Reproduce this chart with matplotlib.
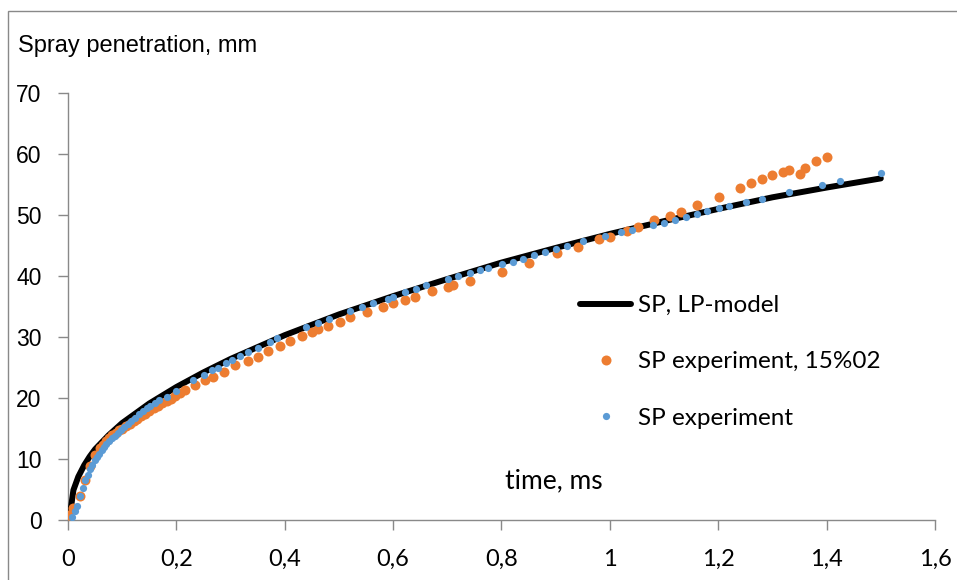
import matplotlib
matplotlib.use('Agg')
import matplotlib.pyplot as plt
from matplotlib.patches import Rectangle

# model curve
model_t = [0, 0.004, 0.01, 0.019, 0.03, 0.04, 0.05, 0.075, 0.1, 0.15, 0.2, 0.25, 0.3,
           0.4, 0.5, 0.6, 0.7, 0.8, 0.9, 1.0, 1.1, 1.2, 1.3, 1.4, 1.5]
model_sp = [0, 1.1, 4.9, 7.1, 9.0, 10.4, 11.6, 13.9, 15.9, 19.1, 21.8, 24.2, 26.4,
            30.3, 33.7, 36.7, 39.5, 42.2, 44.6, 46.9, 49.0, 51.0, 52.9, 54.5, 56.0]

# SP experiment, 15%O2
o2_t = [0.0, 0.01, 0.022, 0.031, 0.041, 0.05, 0.059, 0.064, 0.07, 0.076, 0.082, 0.088,
        0.094, 0.1, 0.107, 0.114, 0.121, 0.128, 0.135, 0.142, 0.15, 0.158, 0.166,
        0.174, 0.182, 0.19, 0.198, 0.207, 0.216, 0.234, 0.253, 0.268, 0.287, 0.308,
        0.333, 0.351, 0.370, 0.391, 0.410, 0.431, 0.450, 0.462, 0.480, 0.502, 0.520,
        0.551, 0.582, 0.600, 0.622, 0.640, 0.671, 0.702, 0.711, 0.741, 0.801, 0.851,
        0.902, 0.942, 0.980, 1.001, 1.031, 1.051, 1.081, 1.111, 1.131, 1.160, 1.201,
        1.240, 1.260, 1.280, 1.300, 1.320, 1.331, 1.351, 1.361, 1.380, 1.400]
o2_sp = [0.8, 2.0, 3.9, 6.6, 8.9, 10.7, 11.8, 12.3, 12.9, 13.4, 13.9, 14.3,
         14.7, 15.0, 15.4, 15.8, 16.2, 16.6, 17.0, 17.4, 17.9, 18.3, 18.7,
         19.1, 19.5, 19.9, 20.3, 20.8, 21.3, 22.1, 23.0, 23.5, 24.3, 25.4,
         26.0, 26.8, 27.7, 28.6, 29.3, 30.2, 30.9, 31.3, 31.8, 32.5, 33.3,
         34.1, 35.0, 35.5, 36.1, 36.6, 37.5, 38.2, 38.5, 39.2, 40.7, 42.1,
         43.7, 44.8, 46.1, 46.4, 47.4, 48.1, 49.2, 49.9, 50.5, 51.7, 53.0,
         54.4, 55.3, 55.9, 56.6, 57.1, 57.4, 56.8, 57.7, 58.9, 59.5]

# SP experiment
exp_t = [0.007, 0.013, 0.016, 0.023, 0.027, 0.031, 0.036, 0.041, 0.045, 0.05, 0.054,
         0.058, 0.062, 0.067, 0.071, 0.076, 0.081, 0.086, 0.092, 0.097, 0.103, 0.110,
         0.117, 0.124, 0.131, 0.138, 0.145, 0.152, 0.160, 0.168, 0.182, 0.2, 0.231,
         0.251, 0.266, 0.277, 0.292, 0.302, 0.317, 0.333, 0.351, 0.372, 0.386, 0.440,
         0.461, 0.482, 0.520, 0.542, 0.562, 0.591, 0.600, 0.621, 0.642, 0.661, 0.701,
         0.720, 0.741, 0.760, 0.776, 0.801, 0.821, 0.840, 0.860, 0.880, 0.901, 0.921,
         0.951, 0.991, 1.020, 1.040, 1.080, 1.100, 1.120, 1.140, 1.160, 1.180, 1.201,
         1.220, 1.251, 1.280, 1.330, 1.391, 1.425, 1.500]
exp_sp = [0.5, 1.4, 2.3, 3.9, 5.2, 6.6, 7.4, 8.4, 9.0, 9.8, 10.3,
          10.9, 11.4, 11.9, 12.4, 12.9, 13.4, 13.8, 14.3, 14.8, 15.2, 15.8,
          16.3, 16.8, 17.3, 17.8, 18.3, 18.7, 19.2, 19.6, 20.2, 21.2, 23.0,
          23.8, 24.6, 25.0, 25.8, 26.2, 26.9, 27.5, 28.2, 29.1, 29.8, 31.7,
          32.3, 33.0, 34.3, 35.0, 35.5, 36.3, 36.6, 37.3, 37.9, 38.5, 39.5,
          40.0, 40.5, 41.0, 41.3, 41.9, 42.3, 42.8, 43.4, 44.0, 44.4, 44.9,
          45.8, 46.6, 47.2, 47.5, 48.4, 48.7, 49.1, 49.7, 50.2, 50.7, 51.1,
          51.5, 52.1, 52.6, 53.7, 54.9, 55.6, 56.9]

x_ticks = [0, 0.2, 0.4, 0.6, 0.8, 1, 1.2, 1.4, 1.6]
x_labels = ['0', '0,2', '0,4', '0,6', '0,8', '1', '1,2', '1,4', '1,6']
y_ticks = [0, 10, 20, 30, 40, 50, 60, 70]

W, H = 957, 580
fig = plt.figure(figsize=(W / 100, H / 100), dpi=100)
ax = fig.add_axes([68 / W, 1 - 520 / H, (935 - 68) / W, (520 - 93) / H])

grey = '#898989'
fig.patches.append(Rectangle((8 / W, -0.1), 1.2, 1.1 - 11 / H, transform=fig.transFigure,
                             fill=False, edgecolor=grey, lw=1.0))

ax.plot(model_t, model_sp, color='black', lw=4.3, solid_capstyle='round',
        label='SP, LP-model', zorder=3)
ax.plot(o2_t, o2_sp, 'o', color='#ED7D31', ms=7.2, mew=0,
        label='SP experiment, 15%02', zorder=4)
ax.plot(exp_t, exp_sp, 'o', color='#5B9BD5', ms=5.2, mew=0,
        label='SP experiment', zorder=5)

ax.set_xlim(0, 1.6)
ax.set_ylim(0, 70)
for s in ['top', 'right']:
    ax.spines[s].set_visible(False)
for s in ['left', 'bottom']:
    ax.spines[s].set_color(grey)
    ax.spines[s].set_linewidth(1.0)
ax.set_xticks(x_ticks)
ax.set_xticklabels(x_labels, family='Lato', fontsize=17)
ax.set_yticks(y_ticks)
ax.set_yticklabels([str(v) for v in y_ticks], family='Liberation Sans', fontsize=16.5)
ax.tick_params(axis='both', direction='out', length=7, width=1.0, color=grey)
ax.tick_params(axis='x', pad=14)
ax.tick_params(axis='y', pad=12)

fig.text(18 / W, 1 - 46 / H, 'Spray penetration, mm', family='Liberation Sans',
         fontsize=17, va='center', ha='left')
fig.text(554 / W, 1 - 481 / H, 'time, ms', family='Lato', fontsize=19,
         va='center', ha='center')

leg = fig.legend(loc='upper left', bbox_to_anchor=(580 / W, 1 - 295 / H),
                 frameon=False, borderpad=0, borderaxespad=0, handlelength=2.1,
                 handletextpad=0.3, labelspacing=1.45,
                 prop={'family': 'Lato', 'size': 17.5})

fig.savefig('out.png', dpi=100)
